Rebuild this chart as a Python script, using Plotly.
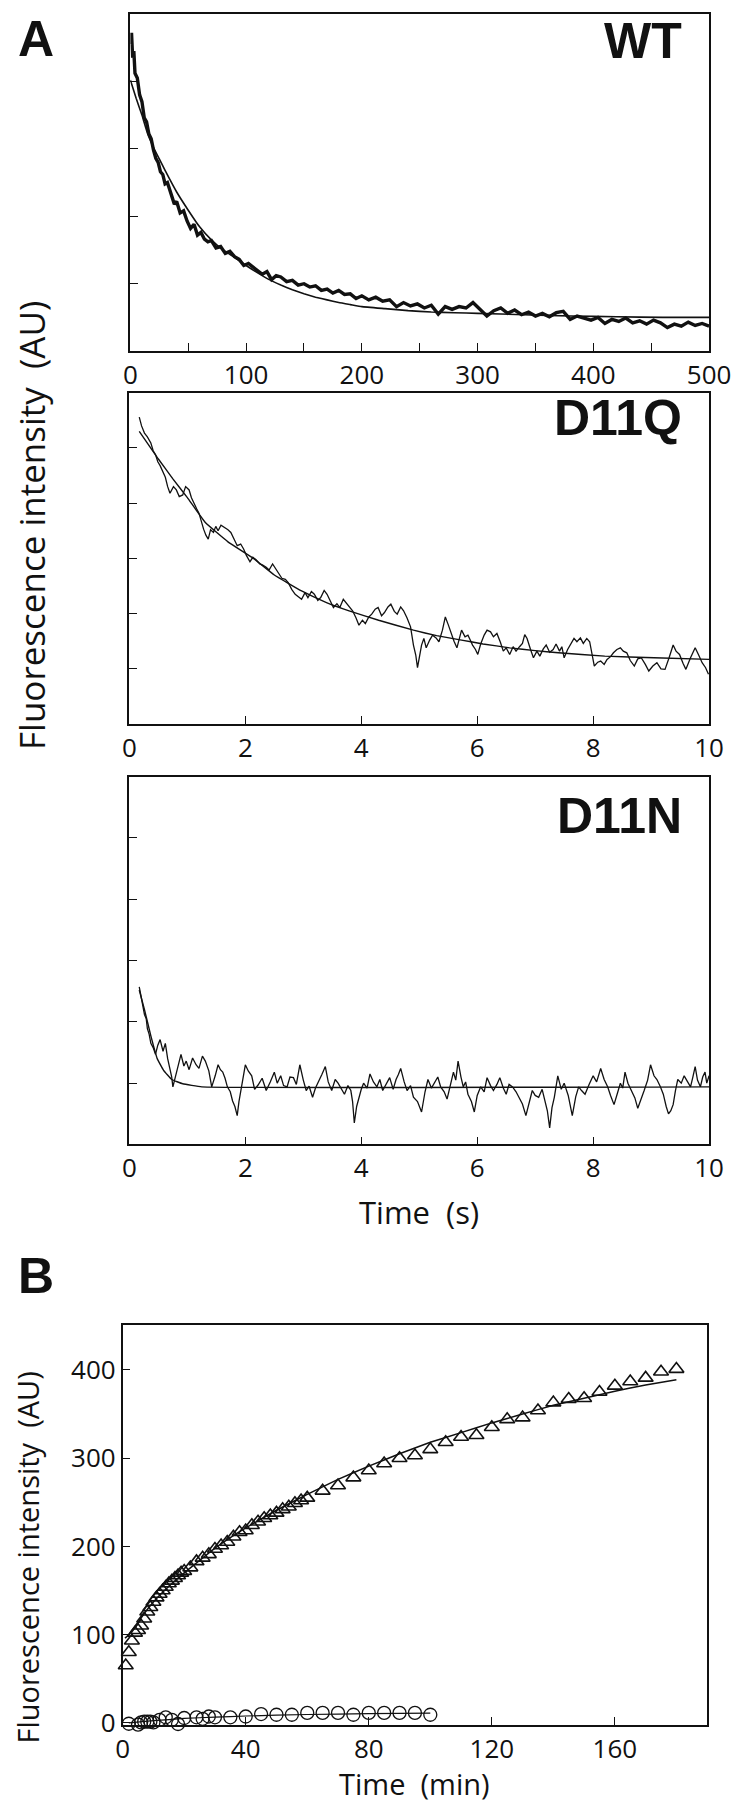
import plotly.graph_objects as go

W, H = 750, 1807
INK = "#111111"
FONT = "Open Sans, Arial, sans-serif"
BOLD = "Liberation Sans, Arial, sans-serif"

# ---- panel A, WT (time in s) ----
wt_t = [0, 1, 2, 3, 4, 6, 8, 10, 12, 14, 16, 18, 20, 22, 24, 26, 28, 30, 32, 34, 36, 38, 40,
        43, 46, 49, 52, 55, 58, 61, 64, 67, 70, 74, 78, 82, 86, 90, 94, 98, 102, 106, 110,
        114, 118, 122, 126, 130, 135, 140, 145, 150, 155, 160, 165, 170, 175, 180, 185, 190,
        195, 200, 206, 212, 218, 224, 230, 236, 242, 248, 254, 260, 266, 272, 278, 284, 290,
        296, 302, 308, 314, 320, 326, 332, 338, 344, 350, 356, 362, 368, 374, 380, 386, 392,
        398, 404, 410, 416, 422, 428, 434, 440, 446, 452, 458, 464, 470, 476, 482, 488, 494, 500]
wt_y = [4.55, 4.72, 4.35, 4.45, 4.12, 4.05, 3.80, 3.70, 3.46, 3.40, 3.22, 3.15, 2.98, 2.86, 2.80,
        2.66, 2.62, 2.48, 2.50, 2.38, 2.30, 2.18, 2.22, 2.05, 2.08, 1.93, 1.82, 1.88, 1.72, 1.76,
        1.66, 1.62, 1.64, 1.53, 1.55, 1.45, 1.48, 1.40, 1.36, 1.27, 1.30, 1.25, 1.20, 1.14, 1.18,
        1.06, 1.12, 1.10, 1.03, 1.05, 0.98, 1.00, 0.95, 0.97, 0.90, 0.92, 0.86, 0.90, 0.84, 0.85,
        0.78, 0.82, 0.76, 0.80, 0.74, 0.76, 0.66, 0.72, 0.67, 0.70, 0.64, 0.68, 0.55, 0.66, 0.62,
        0.66, 0.64, 0.72, 0.62, 0.52, 0.60, 0.64, 0.56, 0.61, 0.54, 0.58, 0.52, 0.56, 0.51, 0.57,
        0.59, 0.47, 0.52, 0.49, 0.46, 0.50, 0.41, 0.47, 0.44, 0.49, 0.42, 0.45, 0.40, 0.46, 0.42,
        0.35, 0.40, 0.37, 0.43, 0.38, 0.41, 0.37]
wt_fit_t = [0, 5, 10, 15, 20, 25, 30, 40, 50, 60, 70, 80, 90, 100, 110, 120, 130, 140, 150, 160,
            170, 180, 190, 200, 220, 240, 260, 280, 300, 340, 380, 420, 460, 500]
wt_fit_y = [4.02, 3.75, 3.50, 3.22, 3.02, 2.85, 2.68, 2.36, 2.09, 1.84, 1.65, 1.50, 1.39, 1.27,
            1.16, 1.06, 0.98, 0.91, 0.85, 0.80, 0.76, 0.72, 0.69, 0.66, 0.63, 0.60, 0.58, 0.57,
            0.56, 0.54, 0.52, 0.51, 0.50, 0.50]

# ---- panel A, D11Q ----
q_t = [0.17, 0.21, 0.26, 0.31, 0.37, 0.41, 0.45, 0.49, 0.53, 0.58, 0.62, 0.66, 0.70, 0.76, 0.81,
       0.86, 0.92, 0.97, 1.03, 1.07, 1.11, 1.16, 1.20, 1.24, 1.28, 1.32, 1.36, 1.40, 1.45, 1.49,
       1.53, 1.58, 1.64, 1.70, 1.75, 1.80, 1.86, 1.92, 1.97, 2.02, 2.08, 2.13, 2.19, 2.25, 2.30,
       2.36, 2.41, 2.47, 2.52, 2.58, 2.63, 2.69, 2.74, 2.80, 2.86, 2.92, 2.97, 3.03, 3.08, 3.14,
       3.19, 3.25, 3.30, 3.36, 3.41, 3.47, 3.52, 3.58, 3.63, 3.69, 3.74, 3.80, 3.85, 3.91, 3.96,
       4.02, 4.07, 4.13, 4.18, 4.24, 4.29, 4.35, 4.40, 4.46, 4.51, 4.57, 4.62, 4.68, 4.73, 4.79,
       4.85, 4.90, 4.94, 4.97, 5.01, 5.04, 5.08, 5.12, 5.18, 5.23, 5.29, 5.34, 5.40, 5.45, 5.50,
       5.54, 5.60, 5.65, 5.69, 5.73, 5.79, 5.84, 5.88, 5.92, 5.97, 6.01, 6.06, 6.12, 6.17, 6.23,
       6.28, 6.34, 6.40, 6.45, 6.50, 6.56, 6.62, 6.67, 6.73, 6.78, 6.82, 6.86, 6.92, 6.97, 7.03,
       7.08, 7.14, 7.19, 7.25, 7.31, 7.36, 7.42, 7.46, 7.50, 7.56, 7.61, 7.67, 7.72, 7.78, 7.83,
       7.89, 7.94, 7.98, 8.02, 8.08, 8.13, 8.19, 8.24, 8.30, 8.35, 8.41, 8.47, 8.52, 8.58, 8.64,
       8.71, 8.77, 8.83, 8.90, 8.96, 9.03, 9.10, 9.17, 9.24, 9.31, 9.38, 9.43, 9.49, 9.55, 9.60,
       9.68, 9.76, 9.82, 9.88, 9.94, 9.99]
q_y = [5.56, 5.40, 5.27, 5.20, 5.09, 4.95, 4.88, 4.75, 4.68, 4.55, 4.47, 4.30, 4.18, 4.30, 4.24,
       4.12, 4.15, 4.30, 4.24, 4.10, 4.00, 3.90, 3.82, 3.65, 3.53, 3.42, 3.35, 3.52, 3.47, 3.58,
       3.50, 3.60, 3.56, 3.52, 3.47, 3.35, 3.23, 3.26, 3.17, 3.05, 2.94, 3.02, 2.97, 2.90, 2.88,
       2.84, 2.79, 2.90, 2.82, 2.70, 2.64, 2.62, 2.56, 2.44, 2.35, 2.30, 2.26, 2.38, 2.29, 2.40,
       2.35, 2.24, 2.29, 2.42, 2.35, 2.22, 2.11, 2.18, 2.11, 2.26, 2.20, 2.12, 2.05, 1.92, 1.79,
       1.88, 1.82, 1.94, 1.99, 2.08, 2.11, 1.96, 2.02, 2.12, 2.17, 2.04, 1.99, 2.12, 2.05, 1.92,
       1.76, 1.43, 1.25, 1.02, 1.30, 1.43, 1.55, 1.38, 1.52, 1.61, 1.56, 1.49, 1.70, 1.94, 1.80,
       1.67, 1.50, 1.38, 1.55, 1.70, 1.58, 1.61, 1.52, 1.43, 1.35, 1.26, 1.45, 1.61, 1.70, 1.67,
       1.58, 1.64, 1.48, 1.32, 1.38, 1.26, 1.40, 1.32, 1.40, 1.46, 1.62, 1.55, 1.35, 1.20, 1.32,
       1.23, 1.36, 1.43, 1.30, 1.35, 1.45, 1.32, 1.40, 1.20, 1.35, 1.43, 1.55, 1.49, 1.56, 1.46,
       1.55, 1.49, 1.30, 1.05, 1.12, 1.14, 1.08, 1.17, 1.22, 1.29, 1.35, 1.38, 1.32, 1.29, 1.15,
       1.05, 1.18, 1.20, 1.08, 0.96, 1.05, 1.11, 1.00, 0.99, 1.20, 1.43, 1.32, 1.26, 1.10, 0.99,
       1.20, 1.38, 1.25, 1.11, 1.02, 0.90]
q_fit_t = [0.17, 0.5, 0.75, 1.0, 1.31, 1.7, 2.14, 2.5, 2.97, 3.4, 3.79, 4.3, 4.9, 5.3, 5.73, 6.1,
           6.56, 7.0, 7.4, 8.2, 9.05, 10.0]
q_fit_y = [5.30, 4.80, 4.44, 4.10, 3.65, 3.30, 3.00, 2.70, 2.41, 2.20, 2.05, 1.88, 1.70, 1.60,
           1.52, 1.45, 1.38, 1.33, 1.29, 1.23, 1.20, 1.17]

# ---- panel A, D11N ----
n_t = [0.17, 0.20, 0.23, 0.26, 0.29, 0.31, 0.34, 0.37, 0.41, 0.45, 0.49, 0.53, 0.58, 0.62, 0.66,
       0.70, 0.73, 0.75, 0.78, 0.81, 0.85, 0.89, 0.94, 0.98, 1.03, 1.09, 1.15, 1.20, 1.26, 1.31,
       1.37, 1.42, 1.48, 1.53, 1.57, 1.61, 1.65, 1.69, 1.74, 1.78, 1.82, 1.86, 1.89, 1.92, 1.96,
       2.00, 2.05, 2.11, 2.16, 2.22, 2.29, 2.36, 2.43, 2.50, 2.55, 2.61, 2.66, 2.72, 2.77, 2.83,
       2.88, 2.94, 3.00, 3.05, 3.10, 3.16, 3.21, 3.27, 3.32, 3.38, 3.43, 3.49, 3.55, 3.60, 3.66,
       3.71, 3.77, 3.82, 3.85, 3.88, 3.92, 3.96, 4.00, 4.04, 4.10, 4.15, 4.21, 4.27, 4.32, 4.37,
       4.43, 4.49, 4.55, 4.60, 4.64, 4.68, 4.74, 4.79, 4.85, 4.90, 4.97, 5.04, 5.10, 5.15, 5.21,
       5.26, 5.32, 5.37, 5.43, 5.48, 5.54, 5.59, 5.63, 5.67, 5.72, 5.76, 5.80, 5.84, 5.90, 5.95,
       6.00, 6.06, 6.12, 6.17, 6.23, 6.28, 6.34, 6.39, 6.45, 6.50, 6.55, 6.61, 6.67, 6.72, 6.78,
       6.84, 6.90, 6.95, 7.00, 7.06, 7.12, 7.17, 7.21, 7.25, 7.29, 7.33, 7.36, 7.39, 7.45, 7.50,
       7.57, 7.64, 7.70, 7.75, 7.80, 7.86, 7.93, 8.00, 8.06, 8.13, 8.19, 8.25, 8.30, 8.36, 8.42,
       8.47, 8.51, 8.55, 8.60, 8.66, 8.72, 8.77, 8.82, 8.88, 8.94, 8.99, 9.05, 9.10, 9.16, 9.21,
       9.26, 9.30, 9.34, 9.38, 9.42, 9.46, 9.52, 9.57, 9.63, 9.68, 9.72, 9.76, 9.80, 9.85, 9.89,
       9.93, 9.96, 10.0]
n_y = [2.57, 2.42, 2.30, 2.12, 2.05, 1.89, 1.80, 1.65, 1.58, 1.47, 1.62, 1.71, 1.52, 1.65, 1.40,
       1.24, 1.10, 0.94, 1.05, 1.18, 1.30, 1.47, 1.28, 1.36, 1.22, 1.41, 1.30, 1.24, 1.44, 1.36,
       1.20, 0.94, 1.12, 1.30, 1.22, 1.18, 1.08, 0.94, 0.86, 0.71, 0.62, 0.47, 0.70, 0.88, 1.10,
       1.30, 1.20, 1.12, 0.90, 0.97, 1.08, 0.88, 1.02, 1.18, 1.00, 1.12, 0.96, 0.94, 1.10, 1.09,
       0.98, 1.30, 1.05, 0.88, 0.95, 0.77, 0.92, 1.03, 1.14, 1.27, 1.02, 0.88, 1.06, 1.00, 0.90,
       0.82, 0.96, 0.88, 0.70, 0.35, 0.62, 0.77, 0.90, 1.00, 0.92, 1.15, 1.02, 0.94, 1.06, 0.88,
       0.98, 1.09, 0.90, 1.06, 1.14, 1.24, 1.02, 0.88, 0.96, 0.77, 0.70, 0.53, 0.86, 1.06, 0.92,
       1.00, 1.10, 0.94, 0.86, 0.74, 0.96, 1.18, 1.05, 1.36, 1.10, 0.94, 1.02, 0.82, 0.70, 0.53,
       0.80, 0.94, 0.86, 1.09, 0.96, 0.88, 0.98, 1.09, 0.92, 0.82, 0.98, 0.94, 0.86, 0.77, 0.66,
       0.47, 0.72, 0.88, 0.80, 0.77, 0.90, 0.71, 0.55, 0.27, 0.60, 0.77, 0.96, 1.12, 0.90, 1.00,
       0.80, 0.47, 0.78, 0.94, 0.88, 0.82, 0.98, 1.12, 1.02, 1.24, 1.06, 0.94, 0.80, 0.65, 0.84,
       1.00, 0.92, 1.18, 1.00, 0.88, 0.76, 0.59, 0.74, 0.88, 1.05, 1.30, 1.12, 1.06, 0.94, 0.82,
       0.62, 0.50, 0.55, 0.65, 0.88, 1.06, 1.00, 1.12, 1.02, 0.94, 1.10, 1.27, 1.05, 0.94, 1.10,
       1.18, 1.00, 1.12]
n_fit_t = [0.17, 0.26, 0.37, 0.48, 0.59, 0.73, 0.92, 1.25, 10.0]
n_fit_y = [2.52, 2.20, 1.77, 1.40, 1.21, 1.06, 0.99, 0.94, 0.94]

# ---- panel B (time in min) ----
tri_t = [1, 2, 3, 4, 5, 6, 7, 8, 9, 10, 11, 12, 13, 14, 15, 16, 17, 18, 19, 20, 22, 24, 26, 28,
         30, 32, 34, 36, 38, 40, 42, 44, 46, 48, 50, 52, 54, 56, 58, 60, 65, 70, 75, 80, 85, 90,
         95, 100, 105, 110, 115, 120, 125, 130, 135, 140, 145, 150, 155, 160, 165, 170, 175, 180]
tri_y = [65, 80, 93, 102, 105, 110, 118, 126, 131, 137, 142, 146, 150, 154, 158, 161, 164, 167,
         170, 172, 176, 183, 187, 191, 197, 201, 205, 211, 216, 218, 224, 228, 232, 235, 238, 242,
         245, 249, 252, 255, 263, 269, 278, 286, 294, 300, 303, 310, 318, 324, 326, 335, 344, 346,
         354, 363, 367, 368, 375, 382, 387, 391, 398, 401]
tri_fit_t = [0.75, 2, 3, 5, 7, 10, 13, 16, 20, 25, 30, 35, 40, 50, 60, 70, 80, 90, 100, 110, 120,
             130, 140, 150, 160, 170, 180]
tri_fit_y = [96, 100, 105, 114, 124, 137, 148, 158, 170, 184, 198, 210, 221, 241, 259, 276, 291,
             305, 318, 329, 340, 350, 360, 368, 376, 383, 389]
circ_t = [2, 3, 5, 6, 7, 8, 9, 10, 12, 14, 16, 18, 20, 24, 26, 28, 30, 35, 40, 45, 50, 55, 60, 65,
          70, 75, 80, 85, 90, 95, 100]
circ_y = [-1, -3, -2, 0.5, 1.4, 1.4, 1.4, 0.5, 3.4, 6.3, 3.4, -1.3, 5.5, 6.3, 4.6, 7.2, 6.3, 6.3,
          7.2, 10, 9.2, 9.2, 11.3, 11.3, 11.3, 9.2, 11.3, 11.3, 11.3, 11.3, 9.2]
circ_fit_t = [2, 10, 20, 30, 40, 60, 80, 100]
circ_fit_y = [0, 2.5, 5, 6.5, 7.8, 9.5, 10.5, 11]


def px(x):
    return x / W


def py(y):
    return 1 - y / H


fig = go.Figure()

# (x axis, y axis, x, y, width, smooth)
line_traces = [
    ("x", "y", wt_t, wt_y, 3.4, False), ("x", "y", wt_fit_t, wt_fit_y, 1.6, True),
    ("x2", "y2", q_t, q_y, 1.3, False), ("x2", "y2", q_fit_t, q_fit_y, 1.4, True),
    ("x3", "y3", n_t, n_y, 1.3, False), ("x3", "y3", n_fit_t, n_fit_y, 1.4, True),
    ("x4", "y4", tri_fit_t, tri_fit_y, 1.5, True), ("x4", "y4", circ_fit_t, circ_fit_y, 1.2, True),
]
for xa, ya, xs, ys, w, smooth in line_traces:
    line = dict(color=INK, width=w)
    if smooth:
        line.update(shape="spline", smoothing=0.3)
    fig.add_trace(go.Scatter(x=xs, y=ys, xaxis=xa, yaxis=ya, mode="lines", line=line))

fig.add_trace(go.Scatter(x=tri_t, y=tri_y, xaxis="x4", yaxis="y4", mode="markers", cliponaxis=False,
                         marker=dict(symbol="triangle-up-open", size=13, color=INK, line=dict(width=1.6))))
fig.add_trace(go.Scatter(x=circ_t, y=circ_y, xaxis="x4", yaxis="y4", mode="markers", cliponaxis=False,
                         marker=dict(symbol="circle-open", size=13, color=INK, line=dict(width=1.3))))

axis_common = dict(showline=True, mirror=True, linecolor=INK, linewidth=1.6, ticks="inside",
                   ticklen=8, tickwidth=1.4, tickcolor=INK, showgrid=False, zeroline=False,
                   tickfont=dict(family=FONT, size=26, color=INK))

panels = [
    # suffix, x domain px, y domain px (top, bottom), x range, y range
    ("", (120, 722), (6, 346), [0, 500], [0, 5]),
    ("2", (119, 722), (388, 722), [0, 10], [0, 6]),
    ("3", (119, 722), (775, 1146), [0, 10], [0, 6]),
]
layout_axes = {}
for sfx, (x0, x1), (y0, y1), xr, yr in panels:
    xd = dict(axis_common, domain=[px(x0), px(x1)], anchor="y" + sfx, range=xr)
    if sfx == "":
        xd.update(tickvals=[0, 100, 200, 300, 400, 500],
                  minor=dict(dtick=50, ticks="inside", ticklen=8, tickwidth=1.4, tickcolor=INK))
    else:
        xd.update(tickvals=[0, 2, 4, 6, 8, 10])
    layout_axes["xaxis" + sfx] = xd
    layout_axes["yaxis" + sfx] = dict(axis_common, domain=[py(y1), py(y0)], anchor="x" + sfx,
                                      range=yr, dtick=1, showticklabels=False)

layout_axes["xaxis4"] = dict(axis_common, domain=[px(112), px(720)], anchor="y4",
                             range=[0, 190], tickvals=[0, 40, 80, 120, 160])
layout_axes["yaxis4"] = dict(axis_common, domain=[py(1731), py(1328)], anchor="x4",
                             range=[-2, 451], tickvals=[0, 100, 200, 300, 400])

nb = "\u00a0"
# text, x px, y px, size, bold, angle, xanchor
texts = [
    ("A", 1, 31, 50, True, 0, "left"),
    ("B", 1, 1279, 50, True, 0, "left"),
    ("WT", 696, 33, 50, True, 0, "right"),
    ("D11Q", 696, 413, 50, True, 0, "right"),
    ("D11N", 696, 815, 50, True, 0, "right"),
    (f"Fluorescence intensity{nb}{nb}(AU)", 17, 522, 35, False, -90, "center"),
    (f"Fluorescence intensity{nb}{nb}(AU)", 13, 1562, 29, False, -90, "center"),
    (f"Time{nb}{nb}(s)", 420, 1214, 31, False, 0, "center"),
    (f"Time{nb}{nb}(min)", 416, 1790, 29, False, 0, "center"),
]
annotations = []
for txt, x, y, size, bold, ang, xanchor in texts:
    annotations.append(dict(
        text=f"<b>{txt}</b>" if bold else txt, x=px(x), y=py(y), xref="paper", yref="paper",
        xanchor=xanchor, yanchor="middle", textangle=ang, showarrow=False,
        font=dict(family=BOLD if bold else FONT, size=size, color=INK)))

fig.update_layout(
    width=W, height=H, margin=dict(l=0, r=0, t=0, b=0),
    paper_bgcolor="white", plot_bgcolor="white", showlegend=False,
    annotations=annotations, **layout_axes,
)

fig.write_html("out.html")
